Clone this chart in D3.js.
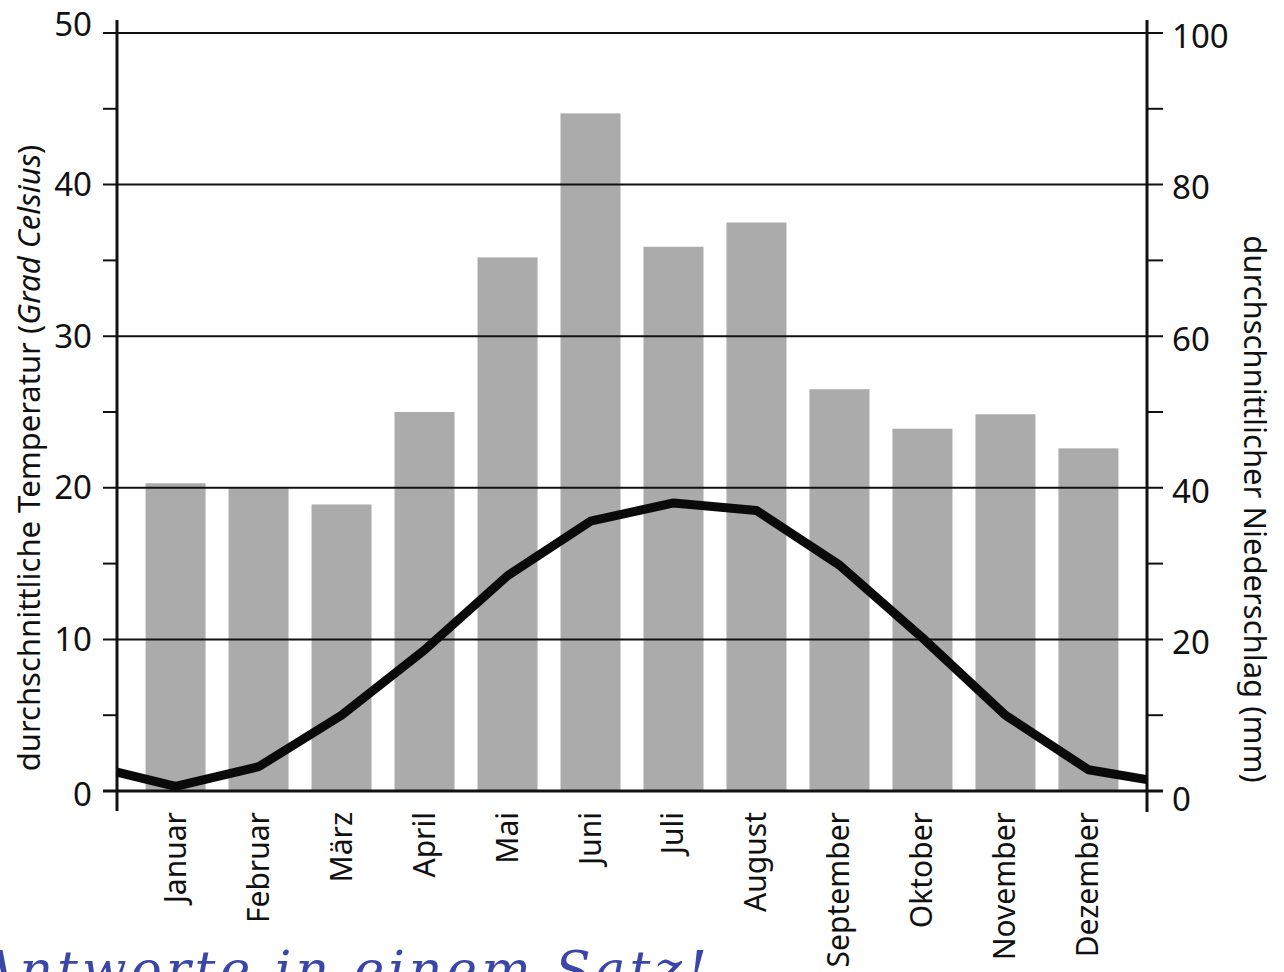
<!DOCTYPE html>
<html>
<head>
<meta charset="utf-8">
<script src="https://cdn.jsdelivr.net/npm/d3@7"></script>
<style>
  body { margin: 0; background: #fff; }
  text { font-family: "Noto Sans", "DejaVu Sans", sans-serif; fill: #111; }
</style>
</head>
<body>
<script>
// months on the x axis
var months = ["Januar", "Februar", "März", "April", "Mai", "Juni", "Juli",
              "August", "September", "Oktober", "November", "Dezember"];

// average precipitation (mm), right axis
var precip = [40.6, 40, 37.8, 50, 70.4, 89.4, 71.8, 75, 53, 47.8, 49.7, 45.2];

// average temperature (°C), left axis
var temp = [0.3, 1.6, 5.0, 9.3, 14.2, 17.8, 19.0, 18.5, 14.9, 10.1, 5.0, 1.4];
// where the curve meets the left and right axis
var tempStart = 1.25;
var tempEnd = 0.75;

var tempTicks = [0, 10, 20, 30, 40, 50];
var precipTicks = [0, 20, 40, 60, 80, 100];

var W = 1284, H = 972;
// plot edges ("top" is taken by window.top, so different names)
var pLeft = 117, pRight = 1147, pTop = 33, pBottom = 791;

var svg = d3.select("body").append("svg")
    .attr("width", W)
    .attr("height", H);

var x = d3.scaleBand()
    .domain(months)
    .range([pLeft, pRight])
    .paddingInner(0.277)
    .paddingOuter(0.344);

var yT = d3.scaleLinear().domain([0, 50]).range([pBottom, pTop]);
var yP = d3.scaleLinear().domain([0, 100]).range([pBottom, pTop]);

// bars
svg.selectAll("rect.bar")
    .data(precip)
    .enter().append("rect")
    .attr("class", "bar")
    .attr("x", function(d, i) { return x(months[i]); })
    .attr("y", function(d) { return yP(d); })
    .attr("width", x.bandwidth())
    .attr("height", function(d) { return yP(0) - yP(d); })
    .style("fill", "#ababab");

// gridlines (drawn over the bars)
svg.selectAll("line.grid")
    .data(tempTicks)
    .enter().append("line")
    .attr("class", "grid")
    .attr("x1", pLeft - 14)
    .attr("x2", pRight + 16)
    .attr("y1", function(d) { return yT(d); })
    .attr("y2", function(d) { return yT(d); })
    .attr("stroke", "#111")
    .attr("stroke-width", function(d) { return d === 0 ? 3 : 2; });

// minor ticks at 5, 15, ... on both sides
var minor = d3.range(5, 50, 10);
svg.selectAll("line.minL")
    .data(minor)
    .enter().append("line")
    .attr("class", "minL")
    .attr("x1", pLeft - 14).attr("x2", pLeft)
    .attr("y1", function(d) { return yT(d); })
    .attr("y2", function(d) { return yT(d); })
    .attr("stroke", "#111").attr("stroke-width", 2);
svg.selectAll("line.minR")
    .data(minor)
    .enter().append("line")
    .attr("class", "minR")
    .attr("x1", pRight).attr("x2", pRight + 16)
    .attr("y1", function(d) { return yT(d); })
    .attr("y2", function(d) { return yT(d); })
    .attr("stroke", "#111").attr("stroke-width", 2);

// axis lines
svg.append("line")
    .attr("x1", pLeft).attr("x2", pLeft)
    .attr("y1", 20).attr("y2", 811)
    .attr("stroke", "#111").attr("stroke-width", 3);
svg.append("line")
    .attr("x1", pRight).attr("x2", pRight)
    .attr("y1", 20).attr("y2", 812)
    .attr("stroke", "#111").attr("stroke-width", 3);

// tick labels
svg.selectAll("text.tl")
    .data(tempTicks)
    .enter().append("text")
    .attr("class", "tl")
    .attr("x", 92)
    .attr("y", function(d) { return yT(d); })
    .attr("dy", function(d) { return d === 50 ? "0.1em" : (d === 0 ? "0.45em" : "0.35em"); })
    .attr("text-anchor", "end")
    .style("font-size", "33px")
    .text(function(d) { return d; });

svg.selectAll("text.tr")
    .data(precipTicks)
    .enter().append("text")
    .attr("class", "tr")
    .attr("x", 1172)
    .attr("y", function(d) { return yP(d); })
    .attr("dy", function(d) { return d === 0 ? "0.6em" : "0.45em"; })
    .attr("text-anchor", "start")
    .style("font-size", "33px")
    .text(function(d) { return d; });

// month labels
svg.selectAll("text.month")
    .data(months)
    .enter().append("text")
    .attr("class", "month")
    .attr("transform", function(d) {
        return "translate(" + (x(d) + x.bandwidth() / 2 + 10) + ",812) rotate(-90)";
    })
    .attr("text-anchor", "end")
    .style("font-size", "30px")
    .text(function(d) { return d; });

// axis titles
var lt = svg.append("text")
    .attr("transform", "translate(40," + ((pTop + pBottom) / 2 + 46) + ") rotate(-90)")
    .attr("text-anchor", "middle")
    .style("font-size", "31px");
lt.append("tspan").text("durchschnittliche Temperatur (");
lt.append("tspan").style("font-style", "italic").text("Grad Celsius");
lt.append("tspan").text(")");

svg.append("text")
    .attr("transform", "translate(1244,509) rotate(90)")
    .attr("text-anchor", "middle")
    .style("font-size", "31px")
    .text("durchschnittlicher Niederschlag (mm)");

// temperature curve
var pts = [[pLeft, tempStart]];
temp.forEach(function(t, i) {
    pts.push([x(months[i]) + x.bandwidth() / 2, t]);
});
pts.push([pRight, tempEnd]);

var line = d3.line()
    .x(function(d) { return d[0]; })
    .y(function(d) { return yT(d[1]); });

svg.append("path")
    .attr("d", line(pts))
    .attr("fill", "none")
    .attr("stroke", "#0a0a0a")
    .attr("stroke-width", 9)
    .attr("stroke-linejoin", "round");

// handwritten note at the bottom, cut off by the page edge
svg.append("text")
    .attr("x", -22)
    .attr("y", 988)
    .style("font-family", "'DejaVu Serif', serif")
    .style("font-style", "italic")
    .style("font-size", "52px")
    .style("fill", "#3a46a8")
    .style("letter-spacing", "4px")
    .text("Antworte in einem Satz!");
</script>
</body>
</html>
